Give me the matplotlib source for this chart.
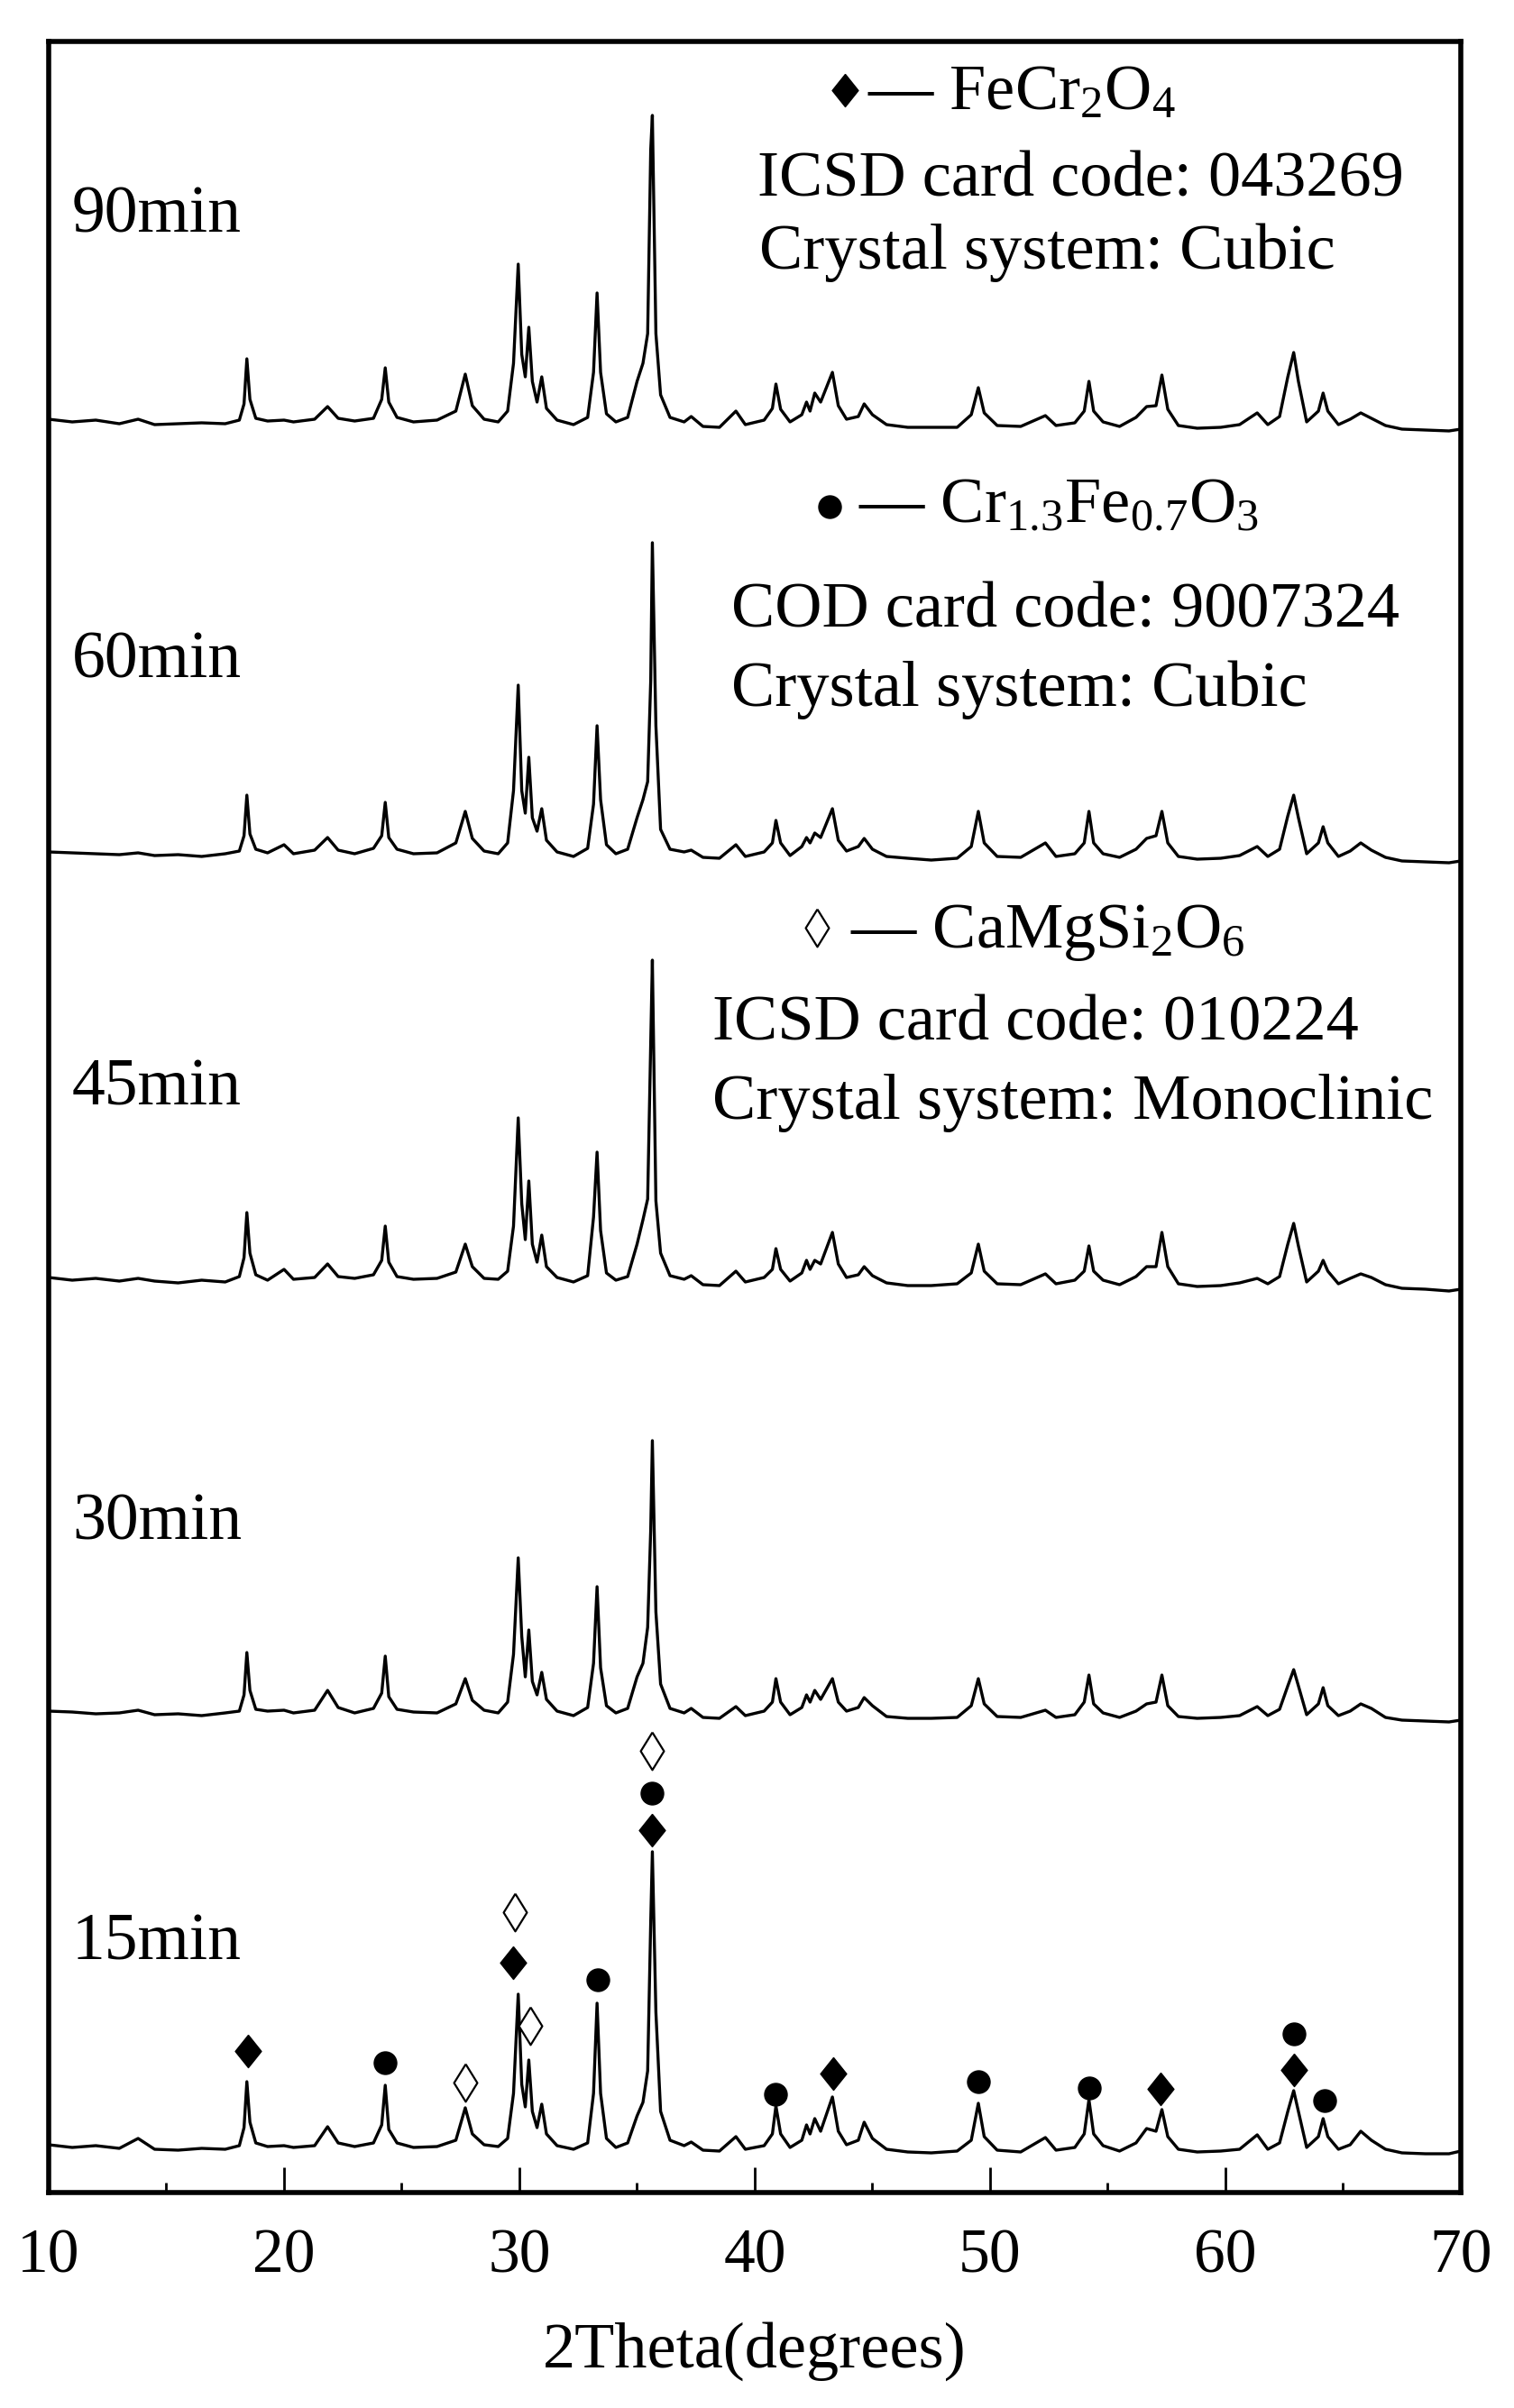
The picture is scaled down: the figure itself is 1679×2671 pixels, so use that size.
import matplotlib
matplotlib.use("Agg")
import matplotlib.pyplot as plt
from matplotlib.ticker import MultipleLocator

# XRD patterns (intensity in arbitrary units above each baseline)
two_theta = [10.0, 11.0, 12.0, 13.0, 13.8, 14.5, 15.5, 16.5, 17.5, 18.1,
             18.3, 18.42, 18.55, 18.8, 19.3, 20.0, 20.4, 21.3, 21.85, 22.3, 23.0, 23.8,
             24.15, 24.3, 24.45, 24.8, 25.5, 26.5, 27.3, 27.7, 28.0, 28.5, 29.1, 29.5,
             29.75, 29.95, 30.1, 30.25, 30.4, 30.55, 30.75, 30.95, 31.15, 31.6, 32.3, 32.9,
             33.15, 33.3, 33.45, 33.7, 34.1, 34.6, 35.0, 35.25, 35.45, 35.58, 35.65, 35.8,
             36.0, 36.4, 37.0, 37.3, 37.8, 38.5, 39.2, 39.6, 40.4,
             40.75, 40.9, 41.1, 41.5, 42.0, 42.2, 42.35, 42.55, 42.8, 43.3, 43.55, 43.9,
             44.4, 44.65, 45.0, 45.6, 46.5, 47.5, 48.6, 49.2, 49.5, 49.75, 50.3, 51.3,
             52.35, 52.8, 53.6, 54.0, 54.2, 54.4, 54.8, 55.5, 56.2, 56.65, 57.05, 57.3,
             57.55, 58.0, 58.8, 59.8, 60.6, 61.35, 61.8, 62.3, 62.65, 62.9, 63.1, 63.45,
             63.95, 64.15, 64.35, 64.8, 65.3, 65.75, 66.2, 66.8, 67.5, 68.5, 69.5, 70.0]

int_15 = [3, 0, 2, -1, 10, -2, -3, -1, -2, 2,
          22, 73, 28, 5, 1, 2, 0, 2, 23, 5, 1, 5,
          25, 69, 20, 5, 0, 1, 8, 44, 15, 3, 1, 10,
          60, 170, 70, 45, 97, 40, 22, 48, 15, 2, -2, 5,
          60, 160, 60, 10, 0, 5, 35, 50, 85, 250, 328, 150,
          40, 8, 2, 6, -3, -4, 12, -2, 2,
          15, 46, 15, 0, 8, 25, 15, 32, 18, 56, 18, 3,
          8, 28, 10, -2, -5, -6, -4, 8, 49, 12, -3, -5,
          11, -3, 0, 15, 53, 15, 2, -4, 5, 21, 18, 42,
          12, -2, -5, -4, -2, 14, -2, 5, 40, 63, 40, 0,
          12, 32, 12, -2, 3, 18, 8, -2, -6, -7, -7, -4]

int_30 = [2, 1, -1, 0, 3, -2, -1, -3, 0, 2,
          20, 67, 25, 4, 2, 3, 0, 3, 25, 6, 0, 5,
          22, 63, 18, 4, 1, 0, 10, 38, 14, 3, 0, 12,
          65, 172, 85, 40, 92, 35, 20, 45, 15, 2, -3, 6,
          55, 140, 50, 8, 0, 5, 40, 55, 95, 203, 302, 112,
          32, 5, 0, 5, -5, -6, 7, -3, 2,
          12, 38, 12, -2, 6, 20, 12, 25, 15, 38, 12, 2,
          6, 17, 8, -4, -6, -6, -5, 8, 38, 10, -4, -5,
          3, -5, -2, 12, 42, 10, 0, -5, 2, 10, 12, 42,
          8, -4, -6, -5, -3, 7, -3, 4, 30, 48, 30, -2,
          10, 28, 8, -3, 2, 10, 5, -5, -8, -9, -10, -8]

int_45 = [3, 0, 2, -1, 2, -1, -3, 0, -2, 4,
          25, 75, 30, 6, 0, 12, 1, 3, 18, 4, 2, 6,
          22, 60, 20, 4, 1, 2, 9, 40, 15, 2, 1, 10,
          60, 180, 85, 45, 110, 40, 20, 50, 15, 3, -2, 5,
          70, 142, 55, 8, 0, 4, 40, 67, 90, 263, 355, 88,
          30, 5, 1, 5, -5, -6, 10, -2, 3,
          12, 35, 12, -1, 8, 22, 12, 22, 18, 53, 18, 3,
          6, 15, 5, -3, -6, -6, -4, 8, 40, 10, -4, -5,
          7, -4, 0, 10, 38, 10, 0, -5, 4, 15, 15, 53,
          15, -4, -7, -6, -3, 2, -4, 4, 40, 63, 38, -2,
          10, 22, 10, -4, 2, 7, 3, -5, -9, -10, -12, -10]

int_60 = [2, 1, 0, -1, 1, -2, -1, -3, 0, 3,
          20, 65, 22, 5, 1, 10, 0, 4, 18, 4, 0, 6,
          20, 57, 18, 5, 0, 1, 12, 47, 17, 3, 0, 12,
          70, 187, 70, 45, 107, 40, 25, 50, 15, 2, -3, 6,
          55, 142, 60, 10, 0, 5, 40, 60, 80, 192, 345, 142,
          27, 5, 2, 4, -4, -5, 10, -3, 2,
          12, 37, 12, -2, 8, 18, 12, 23, 18, 50, 15, 3,
          8, 17, 5, -3, -5, -7, -5, 8, 47, 12, -3, -4,
          12, -3, 0, 12, 47, 12, 0, -4, 5, 17, 20, 47,
          12, -3, -6, -5, -2, 8, -3, 5, 42, 65, 40, 0,
          12, 30, 12, -3, 3, 12, 4, -4, -8, -9, -10, -8]

int_90 = [3, 0, 2, -2, 3, -3, -2, -1, -2, 2,
          20, 70, 25, 4, 1, 2, 0, 3, 17, 4, 1, 4,
          25, 60, 22, 5, 0, 2, 12, 53, 18, 3, 0, 12,
          65, 175, 75, 50, 105, 45, 22, 50, 15, 2, -3, 5,
          55, 143, 55, 9, 0, 5, 45, 65, 98, 302, 340, 98,
          30, 5, 0, 6, -5, -6, 12, -3, 2,
          15, 42, 14, 0, 8, 22, 12, 32, 22, 55, 18, 3,
          6, 20, 8, -3, -6, -6, -6, 8, 38, 10, -4, -5,
          7, -4, -1, 12, 45, 12, 0, -5, 5, 17, 18, 52,
          14, -4, -7, -6, -3, 10, -3, 6, 50, 77, 45, 0,
          12, 32, 12, -3, 3, 10, 4, -4, -8, -9, -10, -8]

times = ["15min", "30min", "45min", "60min", "90min"]
offsets = [0, 482, 962, 1435, 1914]
label_y = [2174, 1707, 1225, 752, 257]   # baseline of the time labels, image px

# phase markers on the 15min pattern
fecr_x = [18.45, 29.75, 35.65, 43.35, 57.25, 62.9]
fecr_y = [107, 205, 352, 82, 65, 86]
crfe_x = [24.3, 33.35, 35.65, 40.9, 49.5, 54.2, 62.9, 64.2]
crfe_y = [94, 186, 393, 59, 73, 66, 126, 52]
diop_x = [27.7, 29.8, 30.45, 35.65]
diop_y = [72, 261, 135, 440]

plt.rcParams["font.family"] = ["Liberation Serif", "DejaVu Serif"]
plt.rcParams["mathtext.fontset"] = "custom"
plt.rcParams["mathtext.rm"] = "Liberation Serif"
plt.rcParams["mathtext.it"] = "Liberation Serif:italic"

W, H = 1679, 2671
fig = plt.figure(figsize=(W / 100, H / 100), dpi=100)
ax = fig.add_axes([54 / W, 1 - 2432 / H, 1566 / W, 2386 / H])


def fx(px):
    return px / W


def fy(py):
    return 1 - py / H


patterns = [int_15, int_30, int_45, int_60, int_90]
for vals, off in zip(patterns, offsets):
    ax.plot(two_theta, [v + off for v in vals], color="black", lw=2.4)

diamond = [(0, 1), (0.8, 0), (0, -1), (-0.8, 0), (0, 1)]
lozenge = [(0, 1), (0.62, 0), (0, -1), (-0.62, 0), (0, 1)]
ax.plot(fecr_x, fecr_y, ls="none", marker=diamond, ms=26, color="black")
ax.plot(crfe_x, crfe_y, ls="none", marker="o", ms=18, color="black")
ax.plot(diop_x, diop_y, ls="none", marker=lozenge, ms=30, mfc="white",
        mec="black", mew=1.6)

for t, y in zip(times, label_y):
    fig.text(fx(80), fy(y), t, fontsize=53, va="baseline", ha="left")

# phase legend
fig.lines.append(plt.Line2D([fx(937)], [fy(100)], marker=diamond, ms=26,
                            color="black", transform=fig.transFigure))
fig.lines.append(plt.Line2D([fx(920)], [fy(562)], marker="o", ms=18,
                            color="black", transform=fig.transFigure))
fig.lines.append(plt.Line2D([fx(906)], [fy(1029)], marker=lozenge, ms=30,
                            mfc="white", mec="black", mew=1.6,
                            transform=fig.transFigure))
fs = 52
fig.text(fx(962), fy(121), "\u2014 FeCr$_2$O$_4$", fontsize=fs, va="baseline")
fig.text(fx(840), fy(218), "ICSD card code: 043269", fontsize=fs, va="baseline")
fig.text(fx(842), fy(298), "Crystal system: Cubic", fontsize=fs, va="baseline")
fig.text(fx(952), fy(580), "\u2014 Cr$_{1.3}$Fe$_{0.7}$O$_3$", fontsize=fs, va="baseline")
fig.text(fx(811), fy(695), "COD card code: 9007324", fontsize=fs, va="baseline")
fig.text(fx(811), fy(783), "Crystal system: Cubic", fontsize=fs, va="baseline")
fig.text(fx(943), fy(1051), "\u2014 CaMgSi$_2$O$_6$", fontsize=fs, va="baseline")
fig.text(fx(790), fy(1154), "ICSD card code: 010224", fontsize=fs, va="baseline")
fig.text(fx(790), fy(1241), "Crystal system: Monoclinic", fontsize=fs, va="baseline")

ax.set_xlim(10, 70)
ax.set_ylim(-50, 2336)
ax.xaxis.set_major_locator(MultipleLocator(10))
ax.xaxis.set_minor_locator(MultipleLocator(5))
ax.tick_params(axis="x", which="major", direction="in", length=20, width=2,
               labelsize=50, pad=29, top=False)
ax.tick_params(axis="x", which="minor", direction="in", length=8, width=2,
               top=False)
ax.set_yticks([])
for s in ax.spines.values():
    s.set_linewidth(4)
ax.set_xlabel("2Theta(degrees)", fontsize=52, labelpad=28)

fig.savefig("out.png", dpi=100)
